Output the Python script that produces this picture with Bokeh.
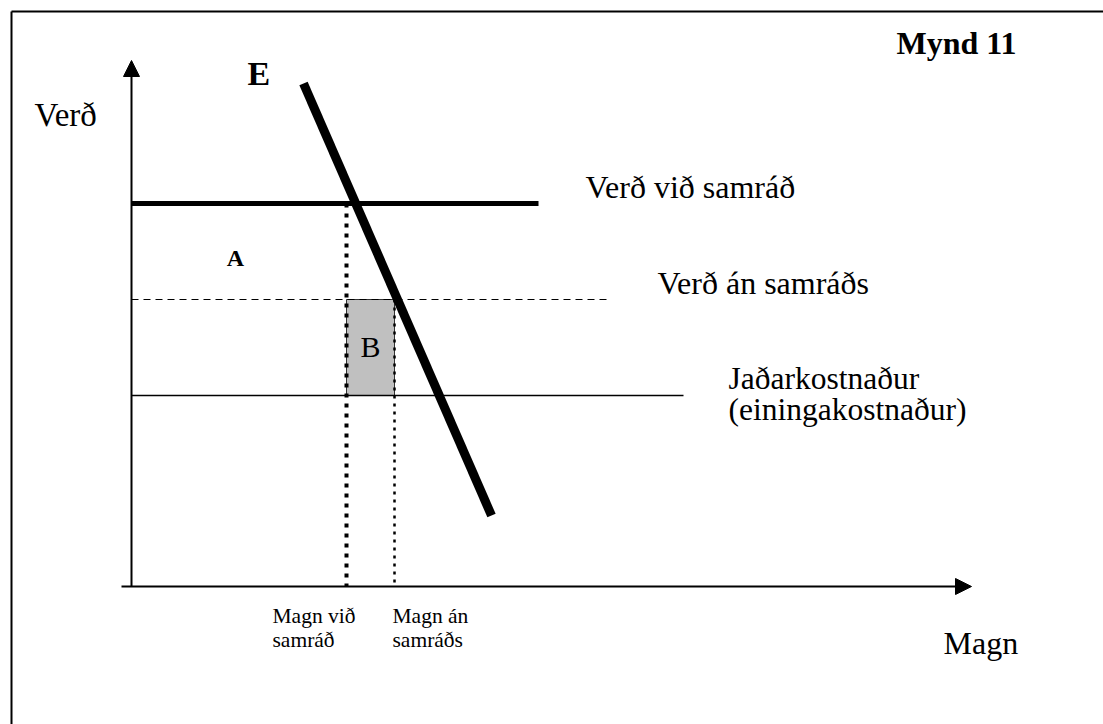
from bokeh.plotting import figure
from bokeh.models import Range1d, Arrow, NormalHead
from bokeh.core.properties import value
from bokeh.embed import file_html
from bokeh.resources import INLINE

# ---- data (diagram units, origin at axes crossing) ----
price_collusion = 383      # Verð við samráð
price_competitive = 287    # Verð án samráðs
marginal_cost = 191        # Jaðarkostnaður
q_collusion = 215          # Magn við samráð
q_competitive = 263        # Magn án samráðs
demand_q = [172, 360]      # E (demand line) quantity ends
demand_p = [503, 71]       # E (demand line) price ends
line_ends_q = [407, 480, 552]   # right ends of the three price lines
y_axis_top = 526
x_axis_right = 840

FONT = value("Liberation Serif")

W, H = 1103, 724
ox, oy = 131, 138  # offset of origin inside canvas (left / bottom)
p = figure(width=W, height=H, output_backend="svg", toolbar_location=None,
           x_range=Range1d(-ox, W - ox), y_range=Range1d(-oy, H - oy),
           min_border=0, x_axis_type=None, y_axis_type=None)
p.grid.visible = False
p.outline_line_color = None
p.background_fill_color = "white"
p.border_fill_color = "white"

# frame border (top and left visible)
p.line([-120, W - ox], [575, 575], line_color="black", line_width=2)
p.line([-120, -120], [575, -oy], line_color="black", line_width=2)

# shaded rectangle B
p.quad(left=[q_collusion], right=[q_competitive], bottom=[marginal_cost],
       top=[price_competitive], fill_color="#c0c0c0", line_color="#333333",
       line_width=1)

# price lines
p.line([0, line_ends_q[0]], [price_collusion] * 2, line_color="black", line_width=5)
p.line([0, line_ends_q[1]], [price_competitive] * 2, line_color="black",
       line_width=1, line_dash="7 5")
p.line([0, line_ends_q[2]], [marginal_cost] * 2, line_color="black", line_width=1.5)

# dotted quantity lines
p.line([q_collusion] * 2, [price_collusion, 0], line_color="black",
       line_width=4, line_dash="4 6")
p.line([q_competitive] * 2, [price_competitive, 0], line_color="black",
       line_width=2.5, line_dash="3 5")

# demand line E
p.line(demand_q, demand_p, line_color="black", line_width=9)

# axes with arrows
p.add_layout(Arrow(end=NormalHead(size=16, fill_color="black", line_color="black", line_width=1),
                   x_start=0, y_start=0, x_end=0, y_end=y_axis_top,
                   line_color="black", line_width=2))
p.add_layout(Arrow(end=NormalHead(size=16, fill_color="black", line_color="black", line_width=1),
                   x_start=-10, y_start=0, x_end=x_axis_right, y_end=0,
                   line_color="black", line_width=2))

# texts
def txt(x, y, s, size, bold=False, align="left"):
    p.text(x=[x], y=[y], text=[s], text_font=FONT, text_font_size=size,
           text_font_style="bold" if bold else "normal", text_align=align,
           text_baseline="alphabetic", text_color="black")

txt(765, 544, "Mynd 11", "32px", bold=True)
txt(116, 513, "E", "34px", bold=True)
txt(-97, 472, "Verð", "33px")
txt(454, 400, "Verð við samráð", "32px")
txt(104, 329, "A", "24px", bold=True, align="center")
txt(526, 304, "Verð án samráðs", "32px")
txt(239, 240, "B", "30px", align="center")
txt(597, 208, "Jaðarkostnaður", "31.5px")
txt(597, 177, "(einingakostnaður)", "31.5px")
txt(141, -29, "Magn við", "21.5px")
txt(141, -53, "samráð", "21.5px")
txt(261, -29, "Magn án", "21.5px")
txt(261, -53, "samráðs", "21.5px")
txt(812, -56, "Magn", "32px")

open("out.html", "w").write(file_html(p, INLINE))
